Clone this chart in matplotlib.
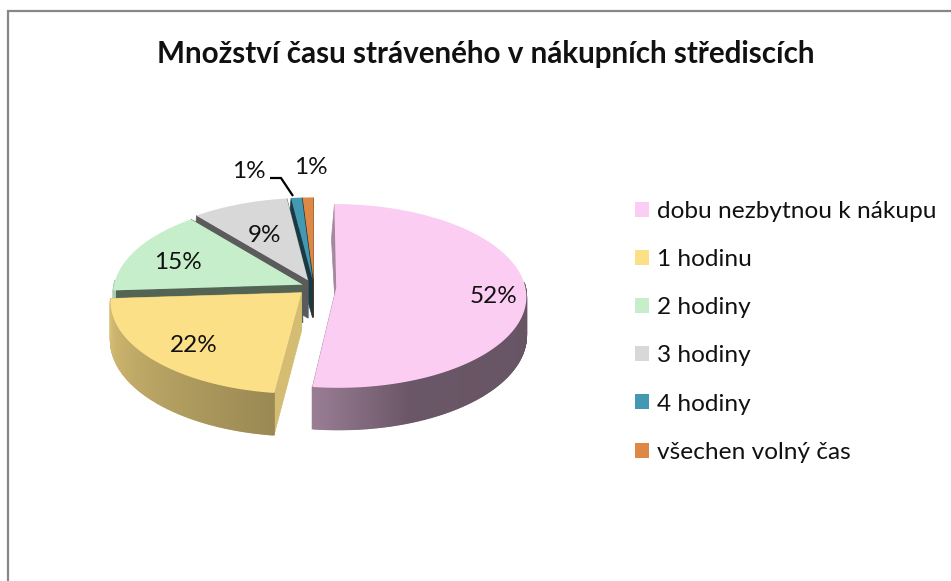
import numpy as np
import matplotlib
matplotlib.use('Agg')
import matplotlib.pyplot as plt
from matplotlib.patches import Patch

title = 'Množství času stráveného v nákupních střediscích'
labels = ['dobu nezbytnou k nákupu', '1 hodinu', '2 hodiny', '3 hodiny', '4 hodiny', 'všechen volný čas']
values = [52, 22, 15, 9, 1, 1]
colors = ['#fbcdf3', '#fce088', '#c6eecb', '#d8d8d8', '#4399b2', '#dd8844']
explode = [0.118, 0.09, 0.065, 0.08, 0.08, 0.08]
cut_shade = [0.66, 0.84, 0.42, 0.42, 0.38, 0.40]
label_r = [0.83, 0.74, 0.74, 0.62]

plt.rcParams['font.family'] = ['Lato', 'DejaVu Sans']

W, H = 951, 581
fig = plt.figure(figsize=(W / 100, H / 100), dpi=100)
ax = fig.add_axes([0, 0, 1, 1])
ax.set_xlim(0, W)
ax.set_ylim(H, 0)
ax.axis('off')

# pie geometry in pixels, all slices go clockwise from the top
cx, cy, rx, ry, depth = 314, 287, 189, 91, 38
persp = 0.09


def project(u, v, z, ou, ov):
    s = 1 / (1 + persp * (v + ov))
    x = cx + rx * (u + ou) * s - 3 * z * np.maximum(v, 0)
    y = cy - ry * (v + ov) * s + depth * z * s
    return x, y


def shade(c, f):
    return tuple(np.array(matplotlib.colors.to_rgb(c)) * f)


def wall_light(a):
    return np.interp(a, [90, 160, 187, 270], [0.41, 0.42, 0.61, 0.86])


edges = np.cumsum([0] + values) / sum(values) * 360.0
mids = (edges[:-1] + edges[1:]) / 2

# back slices first so the front ones cover them
for i in [5, 4, 3, 2, 1, 0]:
    a0, a1 = edges[i], edges[i + 1]
    mid = np.radians(mids[i])
    ou, ov = explode[i] * np.sin(mid), explode[i] * np.cos(mid)
    arc = np.linspace(a0, a1, max(int(a1 - a0) * 2, 4))
    u, v = np.sin(np.radians(arc)), np.cos(np.radians(arc))
    wall = shade(colors[i], cut_shade[i])
    # cut faces
    for j in [0, -1]:
        xa, ya = project(np.array([0, u[j], u[j], 0]), np.array([0, v[j], v[j], 0]),
                         np.array([0, 0, 1, 1]), ou, ov)
        ax.fill(xa, ya, color=wall, lw=0.5, zorder=10 - i)
    # outer wall, one strip per step for the gradient
    for k in range(len(arc) - 1):
        if v[k] > 0.05 and v[k + 1] > 0.05:
            continue
        xs, ys = project(np.array([u[k], u[k + 1], u[k + 1], u[k]]),
                         np.array([v[k], v[k + 1], v[k + 1], v[k]]),
                         np.array([0, 0, 1, 1]), ou, ov)
        ax.fill(xs, ys, color=shade(colors[i], wall_light((arc[k] + arc[k + 1]) / 2)),
                lw=1.0, zorder=10 - i)
    # top face
    xt, yt = project(np.r_[0, u], np.r_[0, v], 0, ou, ov)
    ax.fill(xt, yt, color=colors[i], lw=0, zorder=10 - i)

    if i < len(label_r):
        lx, ly = project(label_r[i] * np.sin(mid), label_r[i] * np.cos(mid), 0, ou, ov)
        ax.text(lx, ly + 4, f'{values[i]}%', fontsize=17.5, color='#111111',
                ha='center', va='center', zorder=20)

ax.text(249, 172, f'{values[4]}%', fontsize=17.5, color='#111111', ha='center', va='center', zorder=20)
ax.text(311, 168, f'{values[5]}%', fontsize=17.5, color='#111111', ha='center', va='center', zorder=20)
ax.plot([270, 281, 293], [178, 178, 196], color='black', lw=1.6, zorder=20, solid_capstyle='butt')

ax.text(485.5, 54, title, fontsize=21.3, fontweight='bold', color='#111111', ha='center', va='center')

# chart frame
ax.plot([8, 8, W], [H, 11, 11], color='#878787', lw=1.6, solid_joinstyle='miter')

handles = [Patch(facecolor=c, edgecolor='none') for c in colors]
ax.legend(handles, labels, loc='upper left', bbox_to_anchor=(635 / W, 1 - 201 / H), frameon=False,
          fontsize=17.6, handlelength=0.57, handleheight=0.57, handletextpad=0.33,
          labelspacing=1.11, borderpad=0, borderaxespad=0, labelcolor='#111111')

fig.savefig('out.png', dpi=100)
